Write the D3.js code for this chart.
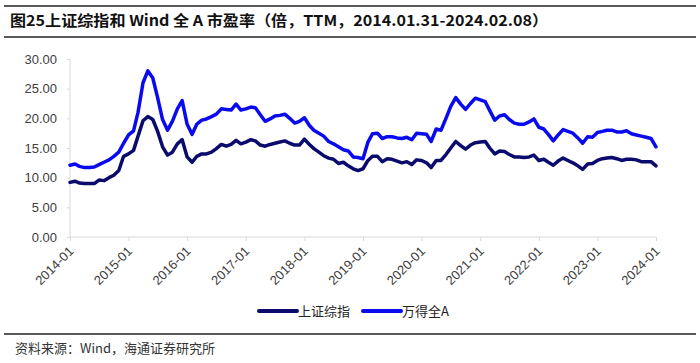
<!DOCTYPE html>
<html>
<head>
<meta charset="utf-8">
<script src="https://cdn.jsdelivr.net/npm/d3@7"></script>
<style>
  body { margin: 0; background: #fff; }
  svg { display: block; }
</style>
</head>
<body>
<svg id="chart" width="700" height="363"></svg>
<script>
// monthly points, 2014-01 .. 2024-01
var months = d3.timeMonth.range(new Date(2014, 0, 1), new Date(2024, 1, 1));

var szIndex = [
  9.2, 9.4, 9.1, 9.0, 9.0, 9.0, 9.6, 9.5, 10.0, 10.4, 11.2, 13.6,
  14.0, 14.6, 17.0, 19.6, 20.3, 19.8, 17.8, 15.2, 13.8, 14.3, 15.7, 16.4,
  13.5, 12.6, 13.6, 14.0, 14.0, 14.3, 14.9, 15.6, 15.3, 15.6, 16.3, 15.7,
  16.0, 16.4, 16.2, 15.5, 15.3, 15.6, 15.8, 16.0, 16.2, 15.8, 15.5, 15.5,
  16.5, 15.6, 14.9, 14.3, 13.7, 13.3, 13.1, 12.4, 12.6, 12.0, 11.5, 11.2,
  11.5, 12.9, 13.6, 13.6, 12.7, 13.2, 13.1, 12.8, 12.5, 12.7, 12.2, 13.0,
  12.9, 12.5, 11.7, 12.9, 12.9, 13.9, 15.0, 16.1, 15.4, 14.8, 15.5, 15.9,
  16.0, 16.1, 15.0, 14.0, 14.5, 14.4, 13.9, 13.5, 13.5, 13.4, 13.5, 13.8,
  12.9, 13.1, 12.6, 12.1, 12.8, 13.3, 12.9, 12.5, 12.0, 11.4, 12.3, 12.4,
  12.9, 13.2, 13.3, 13.4, 13.2, 12.9, 13.1, 13.1, 13.0, 12.7, 12.7, 12.7,
  12.0
];

var windA = [
  12.1, 12.3, 11.9, 11.7, 11.7, 11.8, 12.2, 12.6, 13.0, 13.6, 14.3, 15.8,
  17.2, 17.9, 21.0, 26.0, 28.0, 26.8, 23.5, 19.8, 18.0, 19.5, 21.6, 23.0,
  19.0, 17.3, 19.0, 19.7, 19.9, 20.3, 20.7, 21.6, 21.5, 21.4, 22.4, 21.4,
  21.6, 21.9, 21.8, 20.6, 19.5, 19.9, 20.4, 20.5, 20.7, 20.0, 19.2, 19.5,
  20.1, 18.8, 18.0, 17.5, 17.0, 16.1, 15.7, 15.2, 14.7, 14.5, 13.5, 13.4,
  13.2, 16.0, 17.4, 17.5, 16.6, 16.9, 16.9, 16.7, 16.6, 16.8, 16.4, 17.5,
  17.4, 17.3, 16.1, 18.2, 18.0, 20.0, 22.0, 23.5, 22.4, 21.5, 22.5, 23.4,
  23.1, 22.8, 21.3, 19.7, 20.4, 20.6, 19.8, 19.2, 19.0, 19.0, 19.4, 19.9,
  18.5, 18.2, 17.3, 16.2, 17.2, 18.1, 17.8, 17.5, 16.7, 15.8, 16.9, 16.8,
  17.6, 17.8, 18.0, 18.0, 17.7, 17.7, 17.9, 17.4, 17.2, 17.0, 16.8, 16.6,
  15.2
];

var seriesNames = ["上证综指", "万得全A"];
var seriesColors = ["#0b0b6e", "#0a0aee"];
var yTicks = [0, 5, 10, 15, 20, 25, 30];
var xTickLabels = ["2014-01", "2015-01", "2016-01", "2017-01", "2018-01", "2019-01",
                   "2020-01", "2021-01", "2022-01", "2023-01", "2024-01"];

var svg = d3.select("#chart");
var axisColor = "#d9d9d9";
var textColor = "#404040";

var x = d3.scaleTime()
  .domain([months[0], months[months.length - 1]])
  .range([70, 656]);
var y = d3.scaleLinear().domain([0, 30]).range([237, 59]);

// title and rules
svg.append("line").attr("x1", 4).attr("x2", 696).attr("y1", 6).attr("y2", 6)
  .attr("stroke", "#222").attr("stroke-width", 1.6);
svg.append("line").attr("x1", 4).attr("x2", 696).attr("y1", 37).attr("y2", 37)
  .attr("stroke", "#222").attr("stroke-width", 1.6);
svg.append("text")
  .attr("x", 10).attr("y", 26)
  .attr("font-family", "'Noto Sans CJK SC', 'Liberation Sans', sans-serif")
  .attr("font-weight", "bold").attr("font-size", 15)
  .attr("textLength", 538).attr("lengthAdjust", "spacingAndGlyphs")
  .attr("fill", "#111")
  .text("图25上证综指和 Wind 全 A 市盈率（倍，TTM，2014.01.31-2024.02.08）");

// y axis
var yAxis = svg.append("g").attr("transform", "translate(70,0)")
  .call(d3.axisLeft(y).tickValues(yTicks).tickSize(3).tickFormat(d3.format(".2f")));
yAxis.selectAll("path, line").attr("stroke", axisColor);
yAxis.selectAll("text")
  .attr("x", -13)
  .attr("font-family", "'Liberation Sans', Arial, sans-serif")
  .attr("font-size", 13).attr("fill", textColor);
yAxis.select(".domain").attr("d", "M0," + y(30) + "V" + y(0));

// x axis
var xTickDates = xTickLabels.map(function(s) {
  var p = s.split("-");
  return new Date(+p[0], +p[1] - 1, 1);
});
var xAxis = svg.append("g").attr("transform", "translate(0,237)")
  .call(d3.axisBottom(x).tickValues(xTickDates).tickSize(4)
    .tickFormat(function(d, i) { return xTickLabels[i]; }));
xAxis.selectAll("path, line").attr("stroke", axisColor);
xAxis.select(".domain").attr("d", "M70,0H656");
xAxis.selectAll("text")
  .attr("font-family", "'Liberation Sans', Arial, sans-serif")
  .attr("font-size", 13).attr("fill", textColor)
  .attr("text-anchor", "end")
  .attr("dy", null).attr("y", 0)
  .attr("transform", "translate(4,15) rotate(-45)");

// lines
var line = d3.line()
  .x(function(d, i) { return x(months[i]); })
  .y(function(d) { return y(d); });

[szIndex, windA].forEach(function(vals, k) {
  svg.append("path")
    .datum(vals)
    .attr("fill", "none")
    .attr("stroke", seriesColors[k])
    .attr("stroke-width", 3.5)
    .attr("stroke-linejoin", "round")
    .attr("stroke-linecap", "round")
    .attr("d", line);
});

// legend
var legendX = [259, 363];
seriesNames.forEach(function(name, k) {
  var g = svg.append("g").attr("transform", "translate(" + legendX[k] + ",311)");
  g.append("line").attr("x1", 0).attr("x2", 38).attr("y1", 0).attr("y2", 0)
    .attr("stroke", seriesColors[k]).attr("stroke-width", 4)
    .attr("stroke-linecap", "round");
  g.append("text").attr("x", 39).attr("y", 5)
    .attr("font-family", "'Noto Sans CJK SC', sans-serif")
    .attr("font-size", 13).attr("fill", "#222")
    .text(name);
});

// source
svg.append("line").attr("x1", 4).attr("x2", 696).attr("y1", 334).attr("y2", 334)
  .attr("stroke", "#222").attr("stroke-width", 1.4);
svg.append("text").attr("x", 15).attr("y", 353)
  .attr("font-family", "'Noto Sans CJK SC', sans-serif")
  .attr("font-size", 13).attr("fill", "#333")
  .text("资料来源：Wind，海通证券研究所");
</script>
</body>
</html>
